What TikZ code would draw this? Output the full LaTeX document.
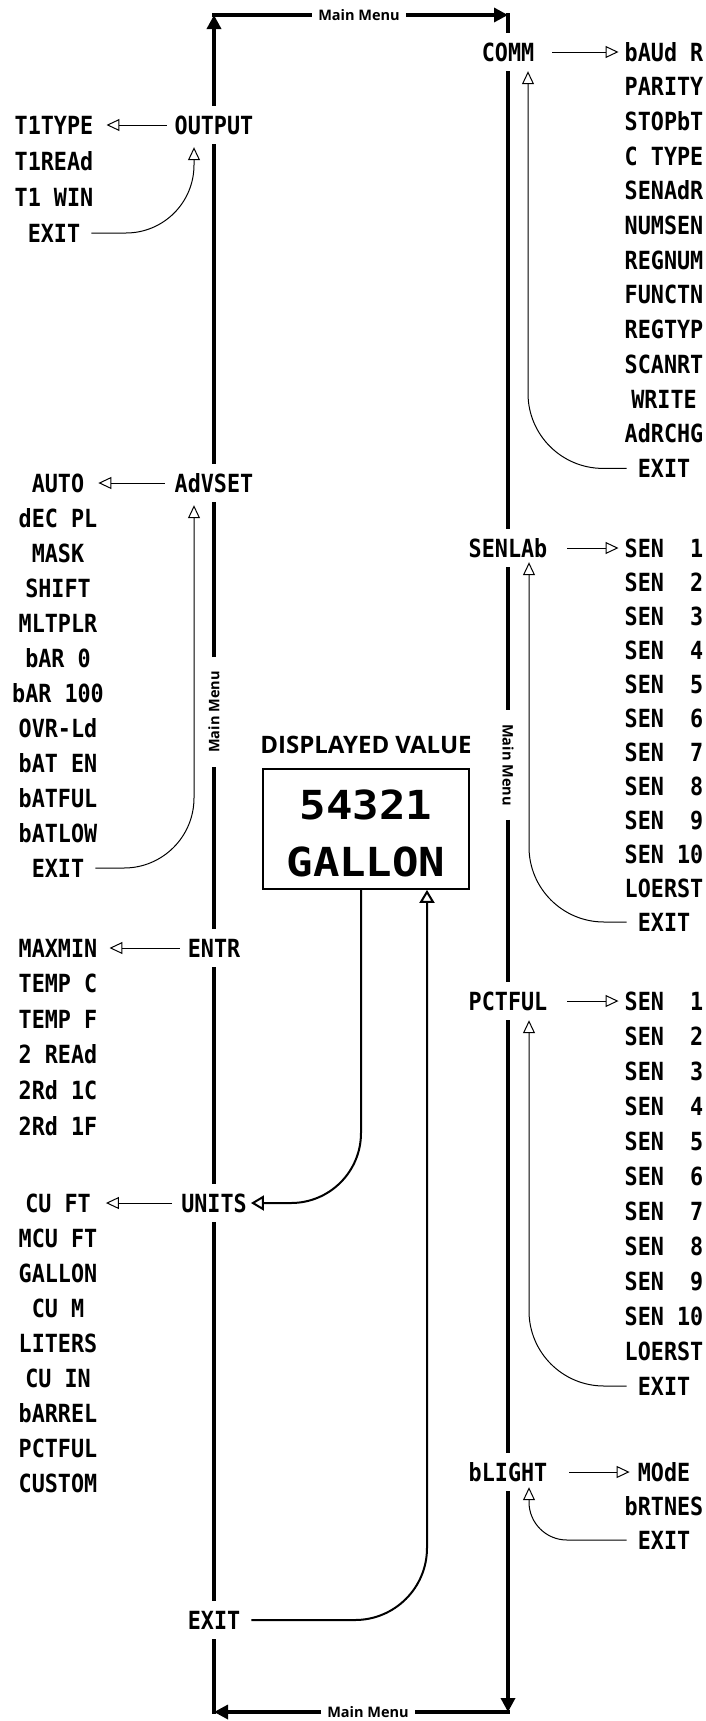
\documentclass[tikz,border=0pt]{standalone}
\usepackage{fontspec}
\usetikzlibrary{arrows.meta}
\newfontfamily\lcdfont[FakeStretch=0.87]{DejaVu Sans Mono}
\newfontfamily\biglcdfont[FakeStretch=1.1]{DejaVu Sans Mono}
\newfontfamily\labfont{Open Sans}
\begin{document}
\begin{tikzpicture}[x=1pt,y=-1pt,
  lcd/.style={font=\lcdfont\bfseries\fontsize{25}{25}\selectfont, text height=18pt, text depth=0pt, inner sep=0pt},
  mainitem/.style={lcd, inner xsep=0pt, inner ysep=10pt},
  subitem/.style={lcd, inner sep=1pt},
  biglcd/.style={font=\biglcdfont\bfseries\fontsize{40}{40}\selectfont, text height=29pt, text depth=0pt, inner sep=0pt},
  mm/.style={font=\labfont\bfseries\fontsize{14.5}{14.5}\selectfont, inner xsep=6pt, inner ysep=1pt},
  mmv/.style={font=\labfont\bfseries\fontsize{14.5}{14.5}\selectfont, inner xsep=14pt, inner ysep=1pt},
  loopline/.style={line width=3.3pt},
  loopar/.style={loopline,-{Triangle[length=14pt,width=14pt]}},
  thinline/.style={line width=1pt},
  opentip/.style={thinline,-{Triangle[open,length=13pt,width=12pt]}},
  backtip/.style={thinline,{Triangle[open,length=13pt,width=12pt]}-},
  midline/.style={line width=2pt},
  midtip/.style={midline,-{Triangle[open,length=13pt,width=15pt]}}
]
\useasboundingbox (0,0) rectangle (706,1721);

% corners of the main loop
\coordinate (tl) at (214,15);
\coordinate (tr) at (508,15);
\coordinate (br) at (508,1712);
\coordinate (bl) at (214,1712);

% main menu items
\node[mainitem] (output) at (214,125) {OUTPUT};
\node[mainitem] (advset) at (214,483) {AdVSET};
\node[mainitem] (entr) at (214,948) {ENTR};
\node[mainitem] (units) at (214,1203) {UNITS};
\node[mainitem] (lexit) at (214,1620) {EXIT};
\node[mainitem] (comm) at (508,52) {COMM};
\node[mainitem] (senlab) at (508,548) {SENLAb};
\node[mainitem] (pctful) at (508,1001) {PCTFUL};
\node[mainitem] (blight) at (508,1472) {bLIGHT};

% Main Menu labels
\node[mm] (mmtop) at (359,15) {Main Menu};
\node[mm] (mmbot) at (368,1712) {Main Menu};
\node[mmv, rotate=90] (mml) at (214,712) {Main Menu};
\node[mmv, rotate=-90] (mmr) at (508,765) {Main Menu};

% sub lists
\foreach \t [count=\i] in {T1TYPE,T1REAd,T1 WIN,EXIT}
  \node[subitem] (o\i) at (54,{125+36*(\i-1)}) {\t};
\foreach \t [count=\i] in {AUTO,dEC PL,MASK,SHIFT,MLTPLR,bAR 0,bAR 100,OVR-Ld,bAT EN,bATFUL,bATLOW,EXIT}
  \node[subitem] (a\i) at (58,{483+35*(\i-1)}) {\t};
\foreach \t [count=\i] in {MAXMIN,TEMP C,TEMP F,2 REAd,2Rd 1C,2Rd 1F}
  \node[subitem] (e\i) at (58,{948+35.6*(\i-1)}) {\t};
\foreach \t [count=\i] in {CU FT,MCU FT,GALLON,CU M,LITERS,CU IN,bARREL,PCTFUL,CUSTOM}
  \node[subitem] (u\i) at (58,{1203+35*(\i-1)}) {\t};
\foreach \t [count=\i] in {bAUd R,PARITY,STOPbT,C TYPE,SENAdR,NUMSEN,REGNUM,FUNCTN,REGTYP,SCANRT,WRITE,AdRCHG,EXIT}
  \node[subitem] (c\i) at (664,{52+34.7*(\i-1)}) {\t};
\foreach \t [count=\i] in {SEN \hphantom{0}1,SEN \hphantom{0}2,SEN \hphantom{0}3,SEN \hphantom{0}4,SEN \hphantom{0}5,SEN \hphantom{0}6,SEN \hphantom{0}7,SEN \hphantom{0}8,SEN \hphantom{0}9,SEN 10,LOERST,EXIT}
  \node[subitem] (s\i) at (664,{548+34*(\i-1)}) {\t};
\foreach \t [count=\i] in {SEN \hphantom{0}1,SEN \hphantom{0}2,SEN \hphantom{0}3,SEN \hphantom{0}4,SEN \hphantom{0}5,SEN \hphantom{0}6,SEN \hphantom{0}7,SEN \hphantom{0}8,SEN \hphantom{0}9,SEN 10,LOERST,EXIT}
  \node[subitem] (p\i) at (664,{1001+35*(\i-1)}) {\t};
\foreach \t [count=\i] in {MOdE,bRTNES,EXIT}
  \node[subitem] (b\i) at (664,{1472+34*(\i-1)}) {\t};

% displayed value
\node[font=\labfont\bfseries\fontsize{24}{24}\selectfont, inner sep=0pt] (dvt) at (366,745) {DISPLAYED VALUE};
\node[draw, line width=1.8pt, minimum width=206pt, minimum height=120pt, inner sep=0pt] (disp) at (366,829) {};
\node[biglcd] (dv1) at (366,805) {54321};
\node[biglcd] (dv2) at (366,862) {GALLON};

% main loop
\draw[loopar] (output) -- (tl);
\draw[loopline] ([xshift=-1.65pt]tl) -- (mmtop);
\draw[loopar] (mmtop) -- (tr);
\draw[loopline] ([yshift=1.65pt]tr) -- (comm);
\draw[loopline] (comm) -- (senlab);
\draw[loopline] (senlab) -- (mmr);
\draw[loopline] (mmr) -- (pctful);
\draw[loopline] (pctful) -- (blight);
\draw[loopar] (blight) -- (br);
\draw[loopline] ([xshift=1.65pt]br) -- (mmbot);
\draw[loopar] (mmbot) -- (bl);
\draw[loopline] ([yshift=-1.65pt]bl) -- (lexit);
\draw[loopline] (lexit) -- (units);
\draw[loopline] (units) -- (entr);
\draw[loopline] (entr) -- (mml);
\draw[loopline] (mml) -- (advset);
\draw[loopline] (advset) -- (output);

% entries into sub lists
\draw[opentip] ([xshift=-8pt]output.west) -- ([xshift=12pt]o1.east);
\draw[opentip] ([xshift=-10pt]advset.west) -- ([xshift=13pt]a1.east);
\draw[opentip] ([xshift=-8pt]entr.west) -- ([xshift=11pt]e1.east);
\draw[opentip] ([xshift=-9pt]units.west) -- ([xshift=14pt]u1.east);
\draw[opentip] ([xshift=18pt]comm.east) -- ([xshift=-5pt]c1.west);
\draw[opentip] ([xshift=20pt]senlab.east) -- ([xshift=-5pt]s1.west);
\draw[opentip] ([xshift=20pt]pctful.east) -- ([xshift=-5pt]p1.west);
\draw[opentip] ([xshift=22pt]blight.east) -- ([xshift=-7pt]b1.west);

% returns from EXIT
\draw[backtip, rounded corners=68pt] ([xshift=-20pt,yshift=-3pt]output.south) |- ([xshift=10pt]o4.east);
\draw[backtip, rounded corners=70pt] ([xshift=-20pt,yshift=-3pt]advset.south) |- ([xshift=10pt]a12.east);
\draw[backtip, rounded corners=75pt] ([xshift=20pt]comm.south) |- ([xshift=-10pt]c13.west);
\draw[backtip, rounded corners=75pt] ([xshift=21pt,yshift=5pt]senlab.south) |- ([xshift=-10pt]s12.west);
\draw[backtip, rounded corners=75pt] ([xshift=21pt]pctful.south) |- ([xshift=-10pt]p12.west);
\draw[backtip, rounded corners=38pt] ([xshift=21pt,yshift=4pt]blight.south) |- ([xshift=-10pt]b3.west);

% display connections
\draw[midtip, rounded corners=70pt] ([xshift=-5pt]disp.south) |- ([xshift=4pt]units.east);
\draw[midtip, rounded corners=72pt] ([xshift=11pt]lexit.east) -| ([xshift=61pt]disp.south);
\end{tikzpicture}
\end{document}
